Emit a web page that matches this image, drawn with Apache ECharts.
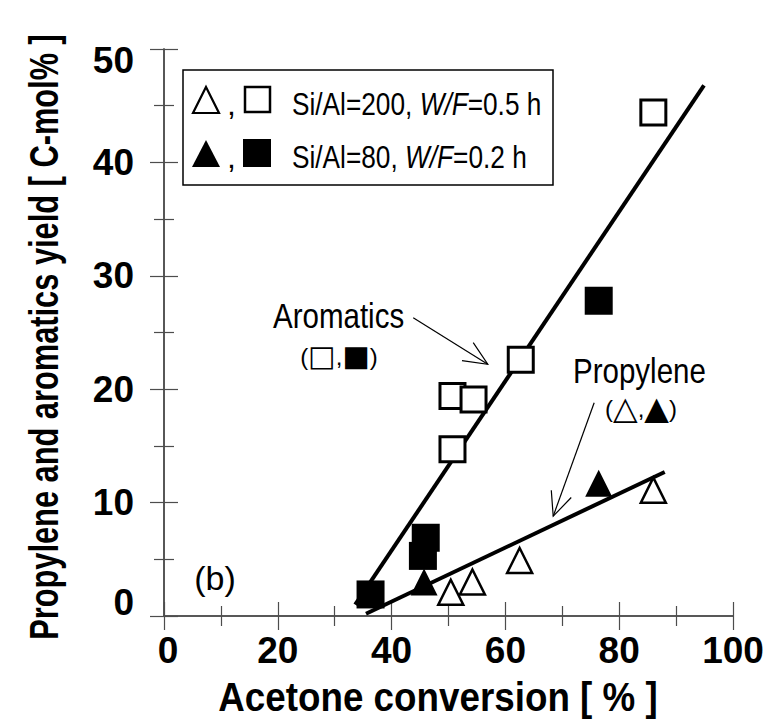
<!DOCTYPE html>
<html><head><meta charset="utf-8">
<script src="https://cdn.jsdelivr.net/npm/echarts@6/dist/echarts.min.js"></script>
<style>html,body{margin:0;padding:0;background:#fff}#c{width:769px;height:724px}</style>
</head><body><div id="c"></div>
<script>
// ---- data ----
const xTickValues = [0, 20, 40, 60, 80, 100];
const yTickValues = [0, 10, 20, 30, 40, 50];
// Aromatics yield (squares)
const aromOpenX   = [50.7, 50.7, 54.4, 62.7, 86.0];   // Si/Al=200, W/F=0.5 h
const aromOpenY   = [14.7, 19.4, 19.1, 22.6, 44.4];
const aromFilledX = [36.3, 45.5, 46.0, 76.4];         // Si/Al=80, W/F=0.2 h
const aromFilledY = [1.9, 5.3, 6.9, 27.8];
// Propylene yield (triangles)
const propOpenX   = [50.4, 54.2, 62.5, 86.0];
const propOpenY   = [2.1, 3.0, 4.9, 11.1];
const propFilledX = [45.7, 76.4];
const propFilledY = [3.0, 11.7];
// Trend lines (end points)
const aromFitX = [33.6, 94.9];
const aromFitY = [1.0, 46.8];
const propFitX = [35.5, 88.0];
const propFitY = [0.2, 12.7];
// Annotation arrows (data coords: from -> to)
const aromArrow = [[43.8, 26.3], [56.9, 22.2]];
const propArrow = [[75.6, 18.8], [68.4, 8.8]];

const zip = (xs, ys) => xs.map((x, i) => [x, ys[i]]);
const SANS = "'Liberation Sans',Arial,sans-serif";
const SYM = "'DejaVu Sans',sans-serif";
const frame = '#4d4d4d';
const NARROW_SCALE = 0.82;

const chart = echarts.init(document.getElementById('c'), null, {renderer: 'svg'});

const labelFont = {fontFamily: SANS, fontWeight: 'bold', fontSize: 37, color: '#000'};

function axisCommon() {
  return {
    type: 'value',
    axisLine: {show: true, lineStyle: {color: frame, width: 1.5}},
    axisTick: {show: true, inside: true, length: 14, lineStyle: {color: frame, width: 1.2}},
    minorTick: {show: true, splitNumber: 2, length: 10, lineStyle: {color: frame, width: 1.2}},
    splitLine: {show: false},
    axisLabel: {show: false}
  };
}

const option = {
  animation: false,
  backgroundColor: '#fff',
  grid: {left: 164, right: 36, top: 49, bottom: 108, outerBoundsMode: 'none'},
  xAxis: [
    Object.assign(axisCommon(), {
      min: xTickValues[0], max: xTickValues[xTickValues.length - 1], interval: 20,
      position: 'bottom',
      axisLabel: Object.assign({show: true, margin: 16,
        formatter: v => v === xTickValues[0] ? '{f|' + v + '}' : String(v),
        rich: {f: Object.assign({padding: [0, 0, 0, 8]}, labelFont)}}, labelFont)
    }),
    Object.assign(axisCommon(), {min: 0, max: 100, interval: 20, position: 'top'})
  ],
  yAxis: [
    Object.assign(axisCommon(), {
      min: yTickValues[0], max: yTickValues[yTickValues.length - 1], interval: 10,
      position: 'left',
      axisLabel: Object.assign({show: true, margin: 30,
        formatter: v => v === yTickValues[yTickValues.length - 1] ? '{t|' + v + '}'
                      : (v === yTickValues[0] ? '{b|' + v + '}' : String(v)),
        rich: {
          t: Object.assign({padding: [22, 0, 0, 0]}, labelFont),
          b: Object.assign({padding: [0, 0, 28, 0]}, labelFont)
        }}, labelFont)
    }),
    Object.assign(axisCommon(), {min: 0, max: 50, interval: 10, position: 'right'})
  ],
  series: [
    {type: 'line', name: 'Aromatics fit', data: zip(aromFitX, aromFitY), symbol: 'none',
     lineStyle: {color: '#000', width: 4, opacity: 1}, z: 1},
    {type: 'line', name: 'Propylene fit', data: zip(propFitX, propFitY), symbol: 'none',
     lineStyle: {color: '#000', width: 4, opacity: 1}, z: 1},
    {type: 'scatter', name: 'Propylene Si/Al=200', data: zip(propOpenX, propOpenY), symbol: 'triangle',
     symbolSize: 25, itemStyle: {color: '#fff', borderColor: '#000', borderWidth: 2.5, opacity: 1}, z: 3},
    {type: 'scatter', name: 'Propylene Si/Al=80', data: zip(propFilledX, propFilledY), symbol: 'triangle',
     symbolSize: 27, itemStyle: {color: '#000', opacity: 1}, z: 3},
    {type: 'scatter', name: 'Aromatics Si/Al=200', data: zip(aromOpenX, aromOpenY), symbol: 'rect',
     symbolSize: 25, itemStyle: {color: '#fff', borderColor: '#000', borderWidth: 3, opacity: 1}, z: 4},
    {type: 'scatter', name: 'Aromatics Si/Al=80', data: zip(aromFilledX, aromFilledY), symbol: 'rect',
     symbolSize: 28, itemStyle: {color: '#000', opacity: 1}, z: 4}
  ]
};
chart.setOption(option);

function arrow(from, to) {
  const a = chart.convertToPixel({gridIndex: 0}, from);
  const b = chart.convertToPixel({gridIndex: 0}, to);
  const ang = Math.atan2(b[1] - a[1], b[0] - a[0]);
  const L = 26, spread = 0.42;
  const p1 = [b[0] - L * Math.cos(ang - spread), b[1] - L * Math.sin(ang - spread)];
  const p2 = [b[0] - L * Math.cos(ang + spread), b[1] - L * Math.sin(ang + spread)];
  return [
    {type: 'line', shape: {x1: a[0], y1: a[1], x2: b[0], y2: b[1]}, style: {stroke: '#000', lineWidth: 1.2}, z: 10},
    {type: 'polyline', shape: {points: [p1, b, p2]}, style: {stroke: '#000', lineWidth: 1.2, fill: null}, z: 10}
  ];
}

// condensed text helper: text drawn at (x, y), squeezed horizontally
function ntext(x, y, style, scale, rotation) {
  return {type: 'text', x: x, y: y, scaleX: scale == null ? NARROW_SCALE : scale, rotation: rotation || 0,
          style: Object.assign({x: 0, y: 0, fill: '#000', fontFamily: SANS}, style), z: 22};
}

const italic = {fontFamily: SANS, fontSize: 32, fontStyle: 'italic', fill: '#000'};
const symRich = {
  p: {fontFamily: SANS, fontSize: 24, fill: '#000'},
  s: {fontFamily: SYM, fontSize: 29, fill: '#000'},
  t: {fontFamily: SYM, fontSize: 32, fill: '#000'}
};

const graphic = [
  // legend box
  {type: 'rect', shape: {x: 183, y: 70, width: 370, height: 115}, style: {fill: '#fff', stroke: '#000', lineWidth: 1.5}, z: 20},
  {type: 'polygon', shape: {points: [[206, 87], [219, 113], [193, 113]]}, style: {fill: '#fff', stroke: '#000', lineWidth: 2.2}, z: 21},
  ntext(227, 104, {text: ',', fontSize: 32, verticalAlign: 'middle'}, 1),
  {type: 'rect', shape: {x: 245, y: 87, width: 25, height: 25}, style: {fill: '#fff', stroke: '#000', lineWidth: 2.5}, z: 21},
  ntext(292, 104, {text: 'Si/Al=200, {i|W/F}=0.5 h', fontSize: 32, verticalAlign: 'middle', rich: {i: italic}}),
  {type: 'polygon', shape: {points: [[206, 140], [220, 167], [192, 167]]}, style: {fill: '#000'}, z: 21},
  ntext(227, 157, {text: ',', fontSize: 32, verticalAlign: 'middle'}, 1),
  {type: 'rect', shape: {x: 243, y: 139, width: 28, height: 28}, style: {fill: '#000'}, z: 21},
  ntext(292, 157, {text: 'Si/Al=80, {i|W/F}=0.2 h', fontSize: 32, verticalAlign: 'middle', rich: {i: italic}}),
  // annotations
  ntext(273, 315, {text: 'Aromatics', fontSize: 36, verticalAlign: 'middle'}),
  ntext(339, 356, {text: '{p|(}{s|□}{p|,}{s|■}{p|)}', align: 'center', verticalAlign: 'middle', rich: symRich}, 1),
  ntext(573, 370, {text: 'Propylene', fontSize: 36, verticalAlign: 'middle'}),
  ntext(641, 408, {text: '{p|(}{t|△}{p|,}{t|▲}{p|)}', align: 'center', verticalAlign: 'middle', rich: symRich}, 1),
  ntext(215, 578, {text: '(b)', fontSize: 34, align: 'center', verticalAlign: 'middle'}, 1),
  // axis titles
  ntext(438, 697, {text: 'Acetone conversion [ % ]', fontSize: 40, fontWeight: 'bold', align: 'center', verticalAlign: 'middle'}, 0.92),
  ntext(45, 337, {text: 'Propylene and aromatics yield [ C-mol% ]', fontSize: 40, fontWeight: 'bold', align: 'center', verticalAlign: 'middle'}, 0.77, Math.PI / 2)
].concat(arrow(aromArrow[0], aromArrow[1]), arrow(propArrow[0], propArrow[1]));

chart.setOption({graphic: graphic});
</script>
</body></html>
